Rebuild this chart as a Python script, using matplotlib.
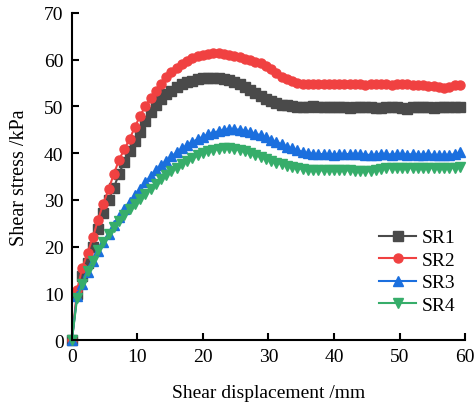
import matplotlib
matplotlib.use("Agg")
import matplotlib.pyplot as plt
import numpy as np

# shear displacement grid (mm), one reading every 0.8 mm
displacement = np.round(np.arange(0, 60, 0.8), 1)

# shear stress (kPa)
sr1 = [0, 9.8, 13.8, 16.5, 20.0, 23.8, 27.2, 30.0, 32.6, 35.6,
       38.2, 40.4, 42.5, 44.6, 46.8, 48.7, 50.2, 51.5, 52.6, 53.4,
       54.2, 54.7, 55.2, 55.5, 55.8, 56.0, 56.1, 56.1, 56.0, 55.8,
       55.6, 55.2, 54.7, 54.1, 53.5, 52.8, 52.2, 51.6, 51.1, 50.7,
       50.4, 50.2, 50.0, 49.9, 49.9, 49.9, 50.1, 49.9, 49.8, 49.8,
       49.8, 49.9, 49.8, 49.7, 49.8, 49.9, 49.9, 49.8, 49.7, 49.7,
       49.8, 49.9, 49.8, 49.7, 49.5, 49.8, 49.9, 49.9, 49.8, 49.7,
       49.8, 49.9, 49.9, 49.9, 49.9]
sr2 = [0, 10.8, 15.5, 18.7, 22.0, 25.8, 29.2, 32.3, 35.5, 38.6,
       40.8, 43.0, 45.5, 48.0, 50.0, 51.9, 53.4, 54.9, 56.3, 57.4,
       58.3, 59.1, 59.8, 60.3, 60.8, 61.1, 61.3, 61.4, 61.4, 61.3,
       61.1, 60.8, 60.5, 60.2, 59.9, 59.6, 59.2, 58.6, 57.9, 57.1,
       56.4, 55.8, 55.4, 55.1, 54.8, 54.7, 54.8, 54.8, 54.8, 54.8,
       54.8, 54.8, 54.7, 54.8, 54.9, 54.7, 54.6, 54.8, 54.9, 54.9,
       54.7, 54.6, 54.8, 54.9, 54.7, 54.6, 54.6, 54.5, 54.4, 54.3,
       54.2, 54.0, 54.2, 54.5, 54.6]
sr3 = [0, 9.5, 12.0, 14.5, 17.0, 19.0, 21.0, 22.8, 24.6, 26.3,
       28.0, 29.6, 31.0, 32.4, 33.8, 35.1, 36.3, 37.4, 38.4, 39.3,
       40.2, 41.0, 41.7, 42.4, 43.0, 43.5, 44.0, 44.4, 44.7, 45.0,
       45.1, 45.1, 45.0, 44.8, 44.5, 44.2, 43.8, 43.4, 42.9, 42.4,
       41.9, 41.4, 41.0, 40.6, 40.3, 40.0, 39.9, 39.8, 39.8, 39.8,
       39.7, 39.8, 39.8, 39.8, 39.9, 39.8, 39.7, 39.6, 39.7, 39.9,
       39.8, 39.7, 39.8, 39.8, 39.7, 39.8, 39.7, 39.7, 39.8, 39.6,
       39.6, 39.7, 39.6, 39.8, 40.2]
sr4 = [0, 9.0, 12.0, 14.8, 17.0, 19.2, 21.0, 22.6, 24.1, 25.5,
       26.8, 28.0, 29.1, 30.2, 31.3, 32.4, 33.4, 34.4, 35.3, 36.1,
       36.9, 37.6, 38.3, 38.9, 39.5, 40.0, 40.4, 40.7, 40.9, 41.0,
       41.0, 40.9, 40.7, 40.4, 40.0, 39.6, 39.2, 38.8, 38.4, 38.0,
       37.7, 37.3, 37.0, 36.8, 36.6, 36.5, 36.4, 36.4, 36.3, 36.3,
       36.3, 36.4, 36.4, 36.3, 36.2, 36.2, 36.1, 36.2, 36.3, 36.6,
       36.9, 36.9, 36.9, 36.9, 36.8, 36.9, 36.9, 36.8, 36.8, 36.9,
       36.8, 36.8, 36.9, 36.9, 37.0]

labels = ["SR1", "SR2", "SR3", "SR4"]
colors = ["#4a4a4a", "#f04141", "#1b6fde", "#36ad6a"]
markers = ["s", "o", "^", "v"]

plt.rcParams["font.family"] = ["Liberation Serif", "DejaVu Serif"]
plt.rcParams["font.size"] = 14

fig = plt.figure(figsize=(4.76, 4.10), dpi=100)
ax = fig.add_axes([0.151, 0.168, 0.826, 0.798])

for ys, lab, c, m in zip([sr1, sr2, sr3, sr4], labels, colors, markers):
    ax.plot(displacement, ys, color=c, marker=m, markersize=6.5,
            linewidth=1.5, label=lab, clip_on=False)

ax.set_xlim(0, 60)
ax.set_ylim(0, 70)
ax.set_xticks(range(0, 61, 10))
ax.set_yticks(range(0, 71, 10))
ax.spines["top"].set_visible(False)
ax.spines["right"].set_visible(False)
for s in ["left", "bottom"]:
    ax.spines[s].set_linewidth(1.5)
ax.tick_params(direction="in", length=5, width=1.5, labelsize=14, pad=6)

ax.set_xlabel("Shear displacement /mm", fontsize=14, labelpad=13)
ax.set_ylabel("Shear stress /kPa", fontsize=14.5, labelpad=11)

ax.legend(loc="upper left", bbox_to_anchor=(0.757, 0.37), frameon=False,
          handlelength=1.9, labelspacing=0.25, handletextpad=0.3,
          borderpad=0, fontsize=14)

fig.savefig("out.png", dpi=100)
plt.close()
